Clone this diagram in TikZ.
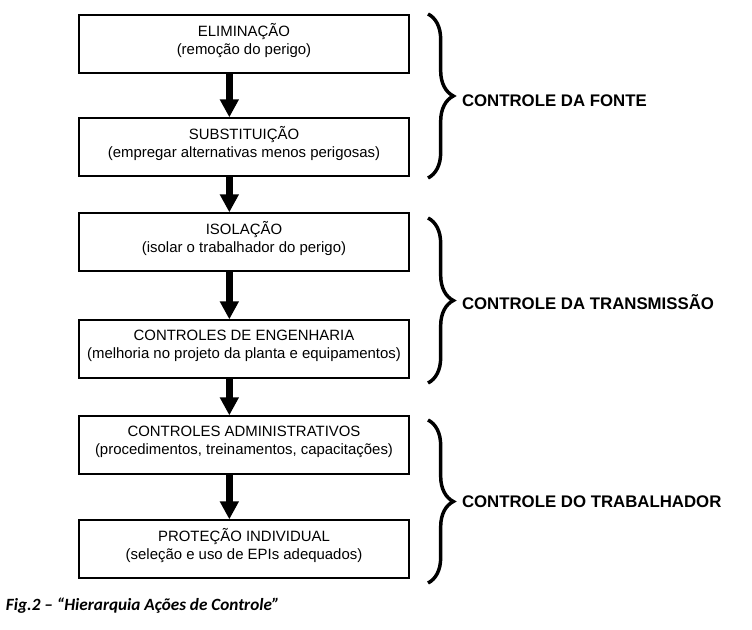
\documentclass[tikz,border=0pt]{standalone}
\usepackage{fontspec}
\setmainfont{Liberation Sans}
\newfontfamily\captionfont{Carlito}
\usetikzlibrary{arrows.meta, decorations.pathreplacing}
\tikzset{
  every picture/.style={line width=1.5pt},
  stage/.style={draw, rectangle, minimum width=247.5pt, minimum height=43pt, align=center,
    font=\fontsize{11.2}{13.5}\selectfont},
  flow/.style={-{Triangle[length=13.5pt, width=13.5pt]}, line width=5.2pt},
  group/.style={decorate, decoration={brace, amplitude=19pt}, line width=2.6pt},
  grouplabel/.style={anchor=west, inner sep=0pt, font=\bfseries\fontsize{12.6}{14}\selectfont},
}

\begin{document}
\begin{tikzpicture}[x=0.75pt, y=-0.75pt]
  \useasboundingbox (0,0) rectangle (752,630);
  % the six stages of control
  \foreach \i/\y/\top/\sub in {
      1/44/{ELIMINAÇÃO}/{(remoção do perigo)},
      2/147/{SUBSTITUIÇÃO}/{(empregar alternativas menos perigosas)},
      3/242/{ISOLAÇÃO}/{(isolar o trabalhador do perigo)},
      4/349/{CONTROLES DE ENGENHARIA}/{(melhoria no projeto da planta e equipamentos)},
      5/445/{CONTROLES ADMINISTRATIVOS}/{(procedimentos, treinamentos, capacitações)},
      6/549/{PROTEÇÃO INDIVIDUAL}/{(seleção e uso de EPIs adequados)}} {
    \node[stage] (b\i) at (244,\y) {\top\\\sub\\[-6pt]\mbox{}};
  }
  \foreach \i [evaluate=\i as \j using int(\i+1)] in {1,...,5} {
    \draw[flow] ([xshift=-11pt]b\i.south) -- ([xshift=-11pt]b\j.north);
  }
  % groups on the right
  \foreach \g/\ya/\yb/\ym/\txt in {
      fonte/14/178/101/{CONTROLE DA FONTE},
      transm/218/383/302/{CONTROLE DA TRANSMISSÃO},
      trab/420/583/502/{CONTROLE DO TRABALHADOR}} {
    \coordinate (\g top) at (428,\ya);
    \coordinate (\g bot) at (428,\yb);
    \draw[group] (\g top) -- (\g bot);
    \node[grouplabel] (\g) at (461,\ym) {\txt};
  }
  \node[anchor=west, inner sep=0pt, font=\captionfont\bfseries\itshape\fontsize{12.9}{15}\selectfont] (caption) at (5,606)
    {Fig.2 – “Hierarquia Ações de Controle”};
\end{tikzpicture}
\end{document}
